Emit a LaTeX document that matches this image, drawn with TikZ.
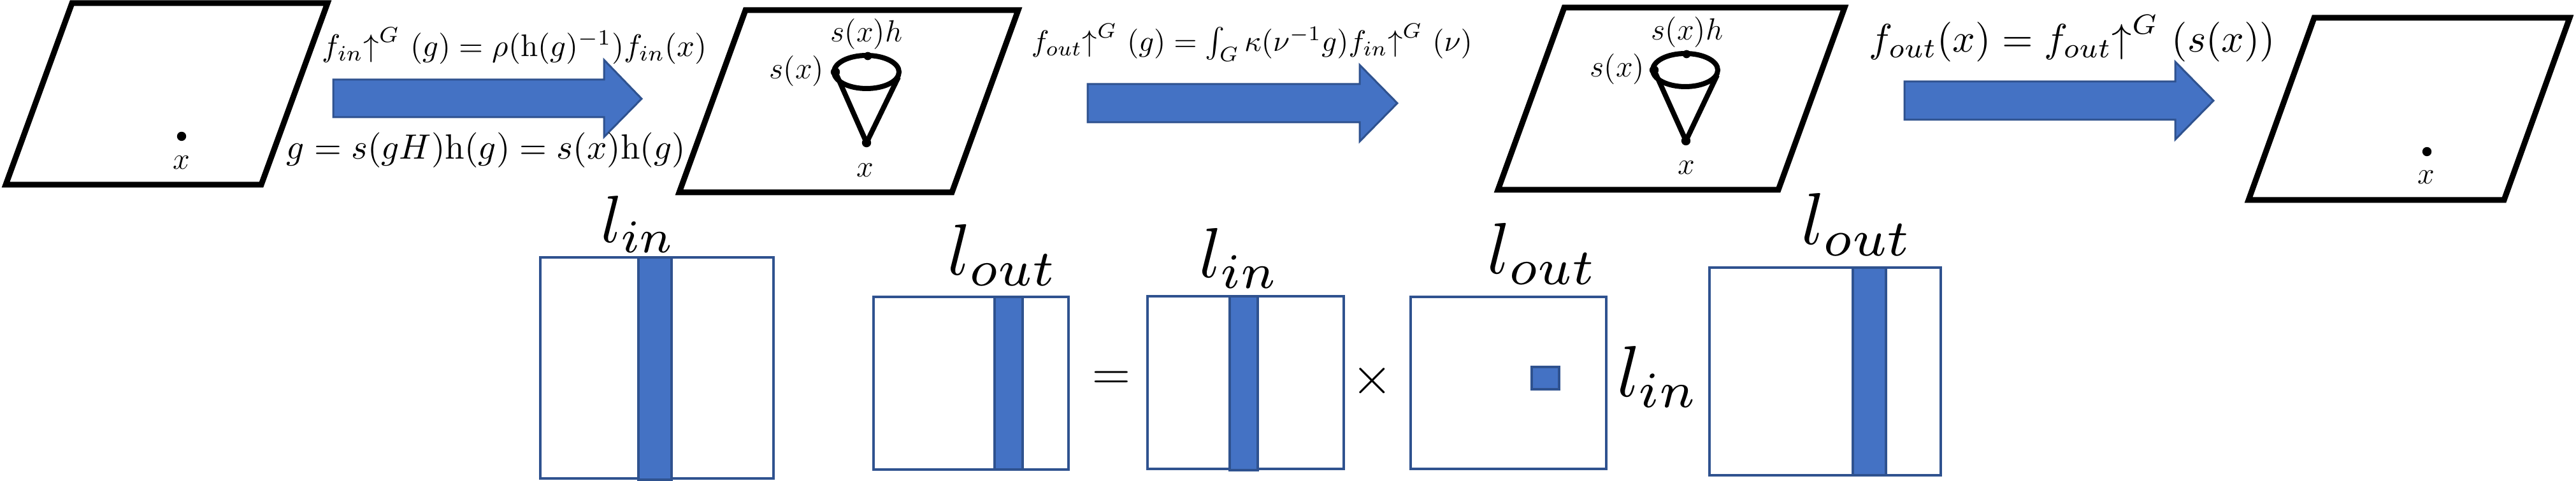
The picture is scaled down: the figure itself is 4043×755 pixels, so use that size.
\documentclass[tikz,border=0pt]{standalone}
\usepackage{graphicx}
\definecolor{offblue}{HTML}{4472C4}
\definecolor{offborder}{HTML}{2F528F}
\tikzset{
  plane/.style={draw=black, line width=2.25pt, line join=miter},
  conel/.style={draw=black, line width=2pt},
  dotn/.style={circle, fill=black, inner sep=0pt, minimum size=3.6pt},
  smalldot/.style={circle, fill=black, inner sep=0pt, minimum size=3.2pt},
  blockarrow/.style={fill=offblue, draw=offborder, line width=0.75pt, line join=miter},
  matbox/.style={draw=offborder, fill=white, line width=1.1pt},
  band/.style={draw=offborder, fill=offblue, line width=1.1pt},
  lbl/.style={inner sep=0pt, font=\fontsize{12.5}{15}\selectfont},
  eqn/.style={inner sep=0pt},
  opn/.style={inner sep=0pt, font=\fontsize{22.5}{27}\selectfont},
}
\begin{document}
\begin{tikzpicture}[x=0.25pt, y=-0.25pt]
\useasboundingbox (0,0) rectangle (4043,755);

% ---------- top row: planes ----------
\draw[plane] (113,5) -- (514,5) -- (410,290) -- (9,290) -- cycle;
\draw[plane] (1170,16) -- (1598,16) -- (1494,302) -- (1066,302) -- cycle;
\draw[plane] (2455,12) -- (2895,12) -- (2791,298) -- (2351,298) -- cycle;
\draw[plane] (3632,28) -- (4033,28) -- (3930,314) -- (3529,314) -- cycle;

% plane 1
\node[dotn] (p1dot) at (285,214) {};
\node[lbl] (p1x) at (285,255) {$x$};

% plane 2 cone
\draw[conel] (1360,113) ellipse [x radius=51, y radius=26];
\node[smalldot] (p2top) at (1362,88) {};
\node[dotn] (p2left) at (1311,113) {};
\coordinate (p2right) at (1410,121);
\node[dotn] (p2apex) at (1360,224) {};
\draw[conel] (p2left.center) -- (p2apex.center);
\draw[conel] (p2right) -- (p2apex.center);
\node[lbl] (p2sh) at (1360,54) {$s(x)h$};
\node[lbl, anchor=east] (p2s) at (1294,112) {$s(x)$};
\node[lbl] (p2x) at (1358,267) {$x$};

% plane 3 cone
\draw[conel] (2645,110) ellipse [x radius=51, y radius=26];
\node[smalldot] (p3top) at (2647,85) {};
\node[dotn] (p3left) at (2596,110) {};
\coordinate (p3right) at (2695,118);
\node[dotn] (p3apex) at (2646,221) {};
\draw[conel] (p3left.center) -- (p3apex.center);
\draw[conel] (p3right) -- (p3apex.center);
\node[lbl] (p3sh) at (2648,51) {$s(x)h$};
\node[lbl, anchor=east] (p3s) at (2582,109) {$s(x)$};
\node[lbl] (p3x) at (2647,263) {$x$};

% plane 4
\node[dotn] (p4dot) at (3809,238) {};
\node[lbl] (p4x) at (3808,278) {$x$};

% ---------- block arrows ----------
\draw[blockarrow] (523,125) -- (948,125) -- (948,94) -- (1007,155) -- (948,215) -- (948,184) -- (523,184) -- cycle;
\draw[blockarrow] (1707,132) -- (2134,132) -- (2134,102) -- (2193,162) -- (2134,222) -- (2134,192) -- (1707,192) -- cycle;
\draw[blockarrow] (2989,128) -- (3414,128) -- (3414,97) -- (3474,158) -- (3414,219) -- (3414,188) -- (2989,188) -- cycle;

% ---------- formulas ----------
\node[eqn, anchor=west] (f1) at (505,72) {\resizebox{151pt}{!}{$f_{in}{\uparrow}^{G}\ (g)=\rho(\mathrm{h}(g)^{-1})f_{in}(x)$}};
\node[eqn, anchor=west] (f2) at (449,236) {\resizebox{156.5pt}{!}{$g=s(gH)\mathrm{h}(g)=s(x)\mathrm{h}(g)$}};
\node[eqn, anchor=west] (f3) at (1618,67) {\resizebox{173pt}{!}{$f_{out}{\uparrow}^{G}\ (g)=\int_G \kappa(\nu^{-1}g)f_{in}{\uparrow}^{G}\ (\nu)$}};
\node[eqn, anchor=west] (f4) at (2933,60) {\resizebox{159.25pt}{!}{$f_{out}(x)=f_{out}{\uparrow}^{G}\ (s(x))$}};

% ---------- bottom row ----------
\draw[matbox] (848,404) rectangle (1214,751);
\draw[band] (1002,404) rectangle (1054,753);
\node[eqn, anchor=south] (la) at (1002,397) {\resizebox{29.5pt}{!}{$l_{in}$}};

\draw[matbox] (1371,466) rectangle (1677,737);
\draw[band] (1561,466) rectangle (1605,737);
\node[eqn, anchor=south] (lb) at (1574,449) {\resizebox{43.25pt}{!}{$l_{out}$}};

\node[opn] (eqsign) at (1744,598) {$=$};

\draw[matbox] (1801,465) rectangle (2109,736);
\draw[band] (1930,465) rectangle (1974,738);
\node[eqn, anchor=south] (lc) at (1945,453) {\resizebox{31.25pt}{!}{$l_{in}$}};

\node[opn] (times) at (2154,598) {$\times$};

\draw[matbox] (2214,466) rectangle (2521,736);
\draw[band] (2404,576) rectangle (2447,611);
\node[eqn, anchor=south] (ld) at (2421,447) {\resizebox{43.25pt}{!}{$l_{out}$}};

\node[eqn, anchor=south] (lm) at (2602,640) {\resizebox{32pt}{!}{$l_{in}$}};

\draw[matbox] (2683,420) rectangle (3046,746);
\draw[band] (2908,420) rectangle (2960,746);
\node[eqn, anchor=south] (le) at (2915,402) {\resizebox{43.75pt}{!}{$l_{out}$}};
\end{tikzpicture}
\end{document}
